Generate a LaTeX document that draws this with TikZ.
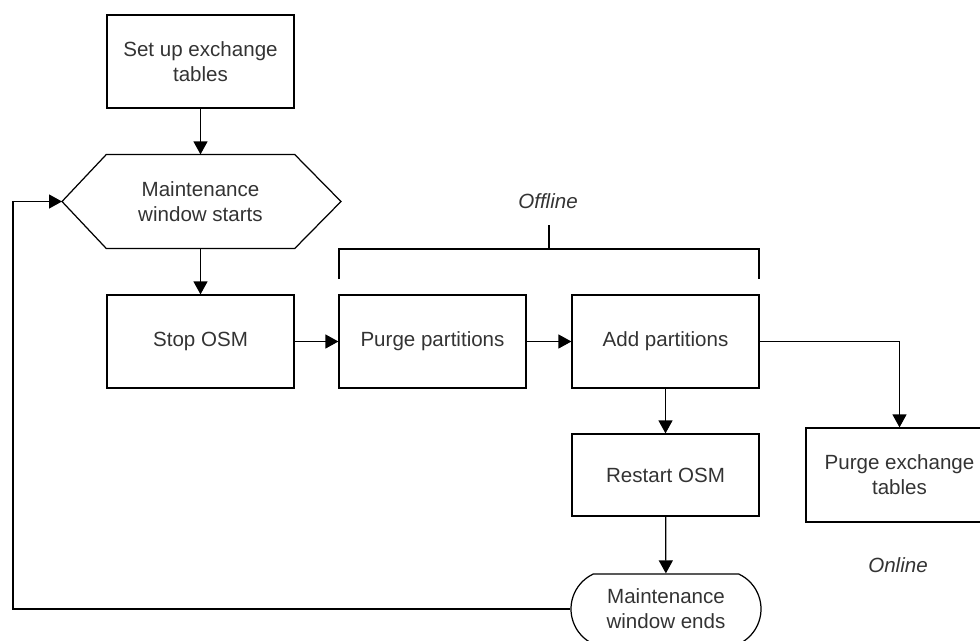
\documentclass[tikz,border=0pt]{standalone}
\usepackage{fontspec}
\setmainfont{Liberation Sans}
\usetikzlibrary{arrows.meta,shapes.misc}

\tikzset{
	box/.style={draw, line width=0.7pt, minimum width=3.74cm, minimum height=1.86cm, align=center, text=black!80, font=\fontsize{11.7}{14.2}\selectfont},
	flow/.style={line width=0.7pt, -{Triangle[length=2.6mm,width=2.8mm]}},
	note/.style={text=black!80, font=\fontsize{11.7}{14.2}\selectfont\itshape}
}

\begin{document}
\begin{tikzpicture}[x=0.02cm, y=-0.02cm]
			\useasboundingbox (0,0) rectangle (980,640);

			% Start of the window
			\node[box] (setup) at (200.5,61.5) {Set up exchange\\tables};
			\node[box, draw=none] (start) at (200.5,201.5) {Maintenance\\window starts};
			\coordinate (startL) at (62,201.5);
			\coordinate (startR) at (341,201.5);
			\draw[line width=0.7pt] (start.north west) -- (start.north east) -- (startR) -- (start.south east) -- (start.south west) -- (startL) -- cycle;

			% Offline steps
			\node[box] (stop) at (200.5,341.5) {Stop OSM};
			\node[box] (purge) at (432.5,341.5) {Purge partitions};
			\node[box] (add) at (665.5,341.5) {Add partitions};
			\node[box, minimum height=1.64cm] (restart) at (665.5,475) {Restart OSM};
			\node[box, rounded rectangle, rounded rectangle arc length=130, minimum width=3.74cm, minimum height=1.4cm, inner xsep=0.6cm] (ends) at (666,609) {Maintenance\\window ends};

			% Online step
			\node[box, minimum height=1.88cm] (purgex) at (899.5,475) {Purge exchange\\tables};

			% Labels and bracket
			\node[note] (offline) at (548,201) {Offline};
			\node[note] (online) at (898,565) {Online};
			\draw[line width=0.7pt] (339,279) -- (339,249) -- (759,249) -- (759,279);
			\draw[line width=0.7pt] (549,249) -- (549,225);

			% Connectors
			\draw[flow] (setup) -- (start);
			\draw[flow] (start) -- (stop);
			\draw[flow] (stop) -- (purge);
			\draw[flow] (purge) -- (add);
			\draw[flow] (add) -- (restart);
			\draw[flow] (restart) -- (ends);
			\draw[flow] (add.east) -| (purgex.north);
			\draw[flow] (ends.west) -- (13,609) -- (13,201.5) -- (startL);
		\end{tikzpicture}
\end{document}
